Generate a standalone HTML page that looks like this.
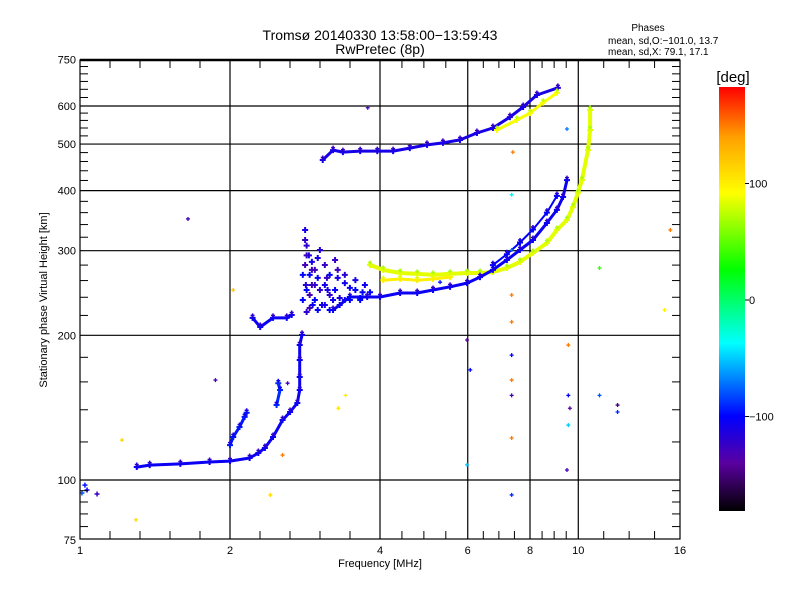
<!DOCTYPE html>
<html><head><meta charset="utf-8">
<style>
html,body{margin:0;padding:0;background:#fff;}
svg{display:block;font-family:"Liberation Sans","DejaVu Sans",sans-serif;}
</style></head>
<body>
<svg id="chart" width="800" height="600" viewBox="0 0 800 600" xmlns="http://www.w3.org/2000/svg">
<defs>
<linearGradient id="cbgrad" x1="0" y1="0" x2="0" y2="1">
<stop offset="0" stop-color="#ff0000"/>
<stop offset="0.118" stop-color="#ffa000"/>
<stop offset="0.250" stop-color="#ffff00"/>
<stop offset="0.431" stop-color="#00ff00"/>
<stop offset="0.604" stop-color="#00ffff"/>
<stop offset="0.777" stop-color="#0000ff"/>
<stop offset="0.887" stop-color="#5a00a0"/>
<stop offset="1" stop-color="#000000"/>
</linearGradient>
</defs>
<text x="380" y="40" text-anchor="middle" font-size="14">Tromsø 20140330 13:58:00−13:59:43</text>
<text x="380" y="54" text-anchor="middle" font-size="14">RwPretec (8p)</text>
<g font-size="10">
<text x="648" y="31" text-anchor="middle">Phases</text>
<text x="608" y="44">mean, sd,O:−101.0, 13.7</text>
<text x="608" y="55">mean, sd,X:  79.1, 17.1</text>
</g>
<g id="grid"></g>
<g id="marks"></g>
<rect x="80" y="60" width="600" height="479" fill="none" stroke="#000" stroke-width="1.2"/>
<line x1="80" y1="60" x2="680" y2="60" stroke="#000" stroke-width="2.5"/>
<g id="axes" font-size="11"></g>
<text x="380" y="567" text-anchor="middle" font-size="11">Frequency [MHz]</text>
<text x="47" y="300" text-anchor="middle" font-size="11" transform="rotate(-90 47 300)">Stationary phase Virtual Height [km]</text>
<text x="733" y="82" text-anchor="middle" font-size="15">[deg]</text>
<rect x="719" y="87" width="26" height="424" fill="url(#cbgrad)"/>
<g id="cbaxis" font-size="11"></g>
</svg>
<script>
// ---- data ----
const xTickLabels = [1, 2, 4, 6, 8, 10, 16];
const yTickLabels = [75, 100, 200, 300, 400, 500, 600, 750];
const yGridValues = [100, 200, 300, 400, 500, 600];
const xGridValues = [2, 4, 6, 8, 10];
const cbTickValues = [100, 0, -100];

const oLowFreq = [1.30,1.38,1.59,1.82,2.00,2.19,2.28,2.35,2.44,2.55,2.64,2.73,2.76,2.76,2.76,2.76,2.79];
const oLowHeight = [106.4,107.4,108.0,109.0,109.5,111.1,113.8,116.6,122.9,133.3,138.5,144.6,153.9,163.8,177.7,190.9,200.4];
const oLowPhase = -105;
const xLowFreq = [2.00,2.03,2.09,2.14,2.16];
const xLowHeight = [118.2,122.9,128.9,135.3,138.0];
const xLowPhase = -95;
const midBranchFreq = [2.48,2.52,2.50];
const midBranchHeight = [143.2,153.9,159.0];
const esFreq = [2.22,2.30,2.44,2.60,2.66];
const esHeight = [217.4,208.1,217.4,217.4,220.5];
const f2oFreq = [3.22,3.48,3.77,4.00,4.39,4.75,5.11,5.53,5.98,6.35,6.74,7.19,7.64,8.11,8.65,9.06,9.32,9.49];
const f2oHeight = [225.8,240.3,240.3,240.3,245.0,245.0,248.5,252.3,256.9,264.3,273.6,287.0,301.0,315.7,342.5,364.7,388.0,420.8];
const f2oPhase = -105;
const f2o2Freq = [6.74,7.19,7.64,8.11,8.65,9.06];
const f2o2Height = [280.0,295.0,312.0,332.0,360.0,390.0];
const f2xFreq = [3.82,4.06,4.39,4.75,5.11,5.53,5.98,6.35,6.74,7.19,7.64,8.11,8.65,9.06,9.49,9.76,9.98,10.17,10.46,10.56,10.56];
const f2xHeight = [280.2,273.6,269.6,268.4,267.2,268.4,269.6,269.6,270.9,276.1,284.3,296.8,311.3,331.3,347.6,369.9,395.6,420.8,485.7,534.9,588.6];
const f2xPhase = 85;
const f2x2Freq = [4.06,4.39,4.75,5.11,5.53];
const f2x2Height = [260.5,262.0,260.5,262.0,264.3];
const hopOFreq = [3.07,3.22,3.37,3.65,3.95,4.25,4.59,4.97,5.35,5.79,6.26,6.74,7.29,7.75,8.26,9.10];
const hopOHeight = [463.2,485.7,481.1,483.4,483.4,483.4,490.5,498.0,502.8,510.0,527.2,540.0,568.9,597.2,632.5,654.6];
const hopOPhase = -110;
const hopXFreq = [6.87,7.53,8.00,8.50,9.06];
const hopXHeight = [534.9,561.0,580.0,609.5,639.2];
const hopXPhase = 90;
const clusterFreq = [2.85,2.88,2.83,2.92,2.89,2.96,3.00,2.85,3.03,3.10,2.96,2.89,3.06,3.17,3.25,3.32,3.40,3.48,3.10,3.17,3.29,3.40,3.57,3.65,2.92,2.80,2.85,3.00,3.13,3.22,
  2.83,2.83,2.85,2.80,2.84,2.89,2.93,3.00,3.10,3.17,3.32,3.48,3.65,3.40,3.57,3.73,3.82,3.25,3.03,2.96,3.14,3.29,3.48,3.69,2.92];
const clusterHeight = [307.4,293.3,280.2,284.3,267.2,273.6,263.3,248.5,248.5,254.6,236.9,228.0,231.3,242.6,248.5,239.2,236.9,240.3,280.2,267.2,263.3,256.9,248.5,236.9,254.6,236.9,223.6,289.7,263.3,236.9,
  315.7,331.3,293.3,267.2,254.6,242.6,231.3,225.8,231.3,225.8,231.3,236.9,239.2,267.2,260.5,254.6,245.8,287.0,301.0,254.6,248.5,273.6,251.0,245.8,273.6];
const clusterPhase = [-120,-105,-130,-110,-100,-125,-105,-100,-120,-110,-100,-130,-105,-120,-100,-110,-105,-100,-125,-100,-110,-105,-100,-100,-130,-100,-120,-110,-125,-105,
  -120,-110,-125,-100,-115,-130,-105,-100,-110,-100,-105,-100,-100,-120,-110,-105,-100,-125,-115,-120,-110,-125,-105,-100,-130];
const lowCornerFreq = [1.009,1.023,1.033,1.082];
const lowCornerHeight = [93.96,97.6,95.3,93.5];
const lowCornerPhase = [-80,-95,-110,-125];
const outFreq = [1.647,1.214,1.295,2.41,2.03,1.87,2.61,2.55,3.30,3.41,5.98,5.98,6.07,7.35,7.35,7.35,7.35,7.35,7.35,7.35,7.35,7.35,9.49,9.55,9.62,9.55,9.55,11.03,11.99,11.99,11.03,15.3,14.9,9.49,7.39,3.78,5.28];
const outHeight = [349.3,121.1,82.6,93.1,248.5,161.4,159.0,112.7,141.0,150.0,107.5,195.6,169.5,93.1,122.3,150.0,161.4,181.9,213.3,242.6,301.0,392.3,104.9,130.1,141.0,150.0,190.9,150.0,143.2,138.5,276.1,331.3,225.8,537.5,481.0,595.0,258.0];
const outPhase = [-130,110,110,110,120,-130,-130,150,105,100,-50,-140,-100,-90,150,-130,150,-100,150,150,-70,-40,-130,-50,-140,-100,150,-80,-150,-90,40,150,100,-70,150,-130,-95];

// ---- axis functions ----
const PX0 = 80, PX1 = 680, PY0 = 60, PY1 = 539;
function xScale(f){ return PX0 + 150 * Math.log2(f); }
function yScale(h){ return 480 - 480.6 * Math.log10(h / 100); }
function cbScale(p){ return 300 - 1.165 * p; }
const cmapPhase = [183,140,92,26,-37,-100,-140,-181];
const cmapRGB = [[255,0,0],[255,160,0],[255,255,0],[0,255,0],[0,255,255],[0,0,255],[90,0,160],[0,0,0]];
function phaseColor(p){
  if (p >= cmapPhase[0]) return 'rgb(255,0,0)';
  for (let i = 0; i < cmapPhase.length - 1; i++){
    const a = cmapPhase[i], b = cmapPhase[i+1];
    if (p <= a && p >= b){
      const t = (a - p) / (a - b);
      const c = cmapRGB[i].map((v, k) => Math.round(v + t * (cmapRGB[i+1][k] - v)));
      return 'rgb(' + c.join(',') + ')';
    }
  }
  return 'rgb(0,0,0)';
}
const NS = 'http://www.w3.org/2000/svg';
function mk(tag, attrs, parent){
  const e = document.createElementNS(NS, tag);
  for (const k in attrs) e.setAttribute(k, attrs[k]);
  parent.appendChild(e);
  return e;
}
const grid = document.getElementById('grid');
const marks = document.getElementById('marks');
const axes = document.getElementById('axes');
const cbaxis = document.getElementById('cbaxis');

xGridValues.forEach(v => {
  const l = mk('line', {x1: xScale(v), x2: xScale(v), y1: PY0, y2: PY1, stroke: '#000', 'stroke-width': 1.2}, grid);
  
  
});
yGridValues.forEach(v => {
  const l = mk('line', {x1: PX0, x2: PX1, y1: yScale(v), y2: yScale(v), stroke: '#000', 'stroke-width': 1.2}, grid);
  
  
});

for (let i = 0; i < xTickLabels.length - 1; i++){
  const a = xScale(xTickLabels[i]), b = xScale(xTickLabels[i+1]);
  const n = (b - a) > 120 ? 5 : 4;
  for (let j = 1; j < n; j++){
    const x = a + (b - a) * j / n;
    [[PY1, PY1 - 8], [PY0, PY0 + 8]].forEach(yy => {
      const t = mk('line', {x1: x, x2: x, y1: yy[0], y2: yy[1], stroke: '#000', 'stroke-width': 1}, axes);
      
      
    });
  }
}
const yMinor = [80,85,90,95,120,140,160,180,220,240,260,280,320,340,360,380,420,440,460,480,520,540,560,580,625,650,675,700,725];
yMinor.forEach(v => {
  const y = yScale(v);
  [[PX0, PX0 + 8], [PX1, PX1 - 8]].forEach(xx => {
    const t = mk('line', {x1: xx[0], x2: xx[1], y1: y, y2: y, stroke: '#000', 'stroke-width': 1}, axes);
    
    
  });
});

xTickLabels.forEach(v => {
  const t = mk('text', {x: xScale(v), y: 554, 'text-anchor': 'middle'}, axes);
  t.textContent = v;
  
  
});
yTickLabels.forEach(v => {
  const t = mk('text', {x: 76, y: yScale(v) + 4, 'text-anchor': 'end'}, axes);
  t.textContent = v;
  
  
});
cbTickValues.forEach(v => {
  const y = cbScale(v);
  const tk = mk('line', {x1: 745, x2: 749, y1: y, y2: y, stroke: '#000'}, cbaxis);
  
  
  const t = mk('text', {x: 749, y: y + 4}, cbaxis);
  t.textContent = v === -100 ? '−100' : v;
  
  
});

function plus(f, h, p, s, w){
  const x = xScale(f), y = yScale(h);
  const e = mk('path', {d: `M${x-s},${y}H${x+s}M${x},${y-s}V${y+s}`, stroke: phaseColor(p), 'stroke-width': w, fill: 'none'}, marks);
  
  
}
function trace(fs, hs, p, name, width){
  const pts = fs.map((f, i) => xScale(f).toFixed(1) + ',' + yScale(hs[i]).toFixed(1)).join(' ');
  const pl = mk('polyline', {points: pts, fill: 'none', stroke: phaseColor(p), 'stroke-width': width, 'stroke-linejoin': 'round', 'stroke-linecap': 'round'}, marks);
  
  
  fs.forEach((f, i) => {
    plus(f, hs[i], p, 3, 2);
    plus(f, hs[i] * 1.012, p - 15, 2, 1.5);
  });
}
trace(oLowFreq, oLowHeight, oLowPhase, 'o-trace-low', 3);
trace(xLowFreq, xLowHeight, xLowPhase, 'low-branch-trace', 3);
trace(midBranchFreq, midBranchHeight, -90, 'mid-branch-trace', 3);
trace(esFreq, esHeight, -105, 'es-trace', 3);
trace(f2xFreq, f2xHeight, f2xPhase, 'f2-x-trace', 4);
trace(f2x2Freq, f2x2Height, 100, 'f2-x-trace-secondary', 3);
trace(f2oFreq, f2oHeight, f2oPhase, 'f2-o-trace', 3);
trace(f2o2Freq, f2o2Height, -100, 'f2-o-trace-secondary', 2);
trace(hopOFreq, hopOHeight, hopOPhase, 'second-hop-o-trace', 3);
trace(hopXFreq, hopXHeight, hopXPhase, 'second-hop-x-trace', 3);
clusterFreq.forEach((f, i) => plus(f, clusterHeight[i], clusterPhase[i], 3, 2));
lowCornerFreq.forEach((f, i) => plus(f, lowCornerHeight[i], lowCornerPhase[i], 2.5, 1.5));
outFreq.forEach((f, i) => plus(f, outHeight[i], outPhase[i], 2, 1.3));
</script>
</body></html>
